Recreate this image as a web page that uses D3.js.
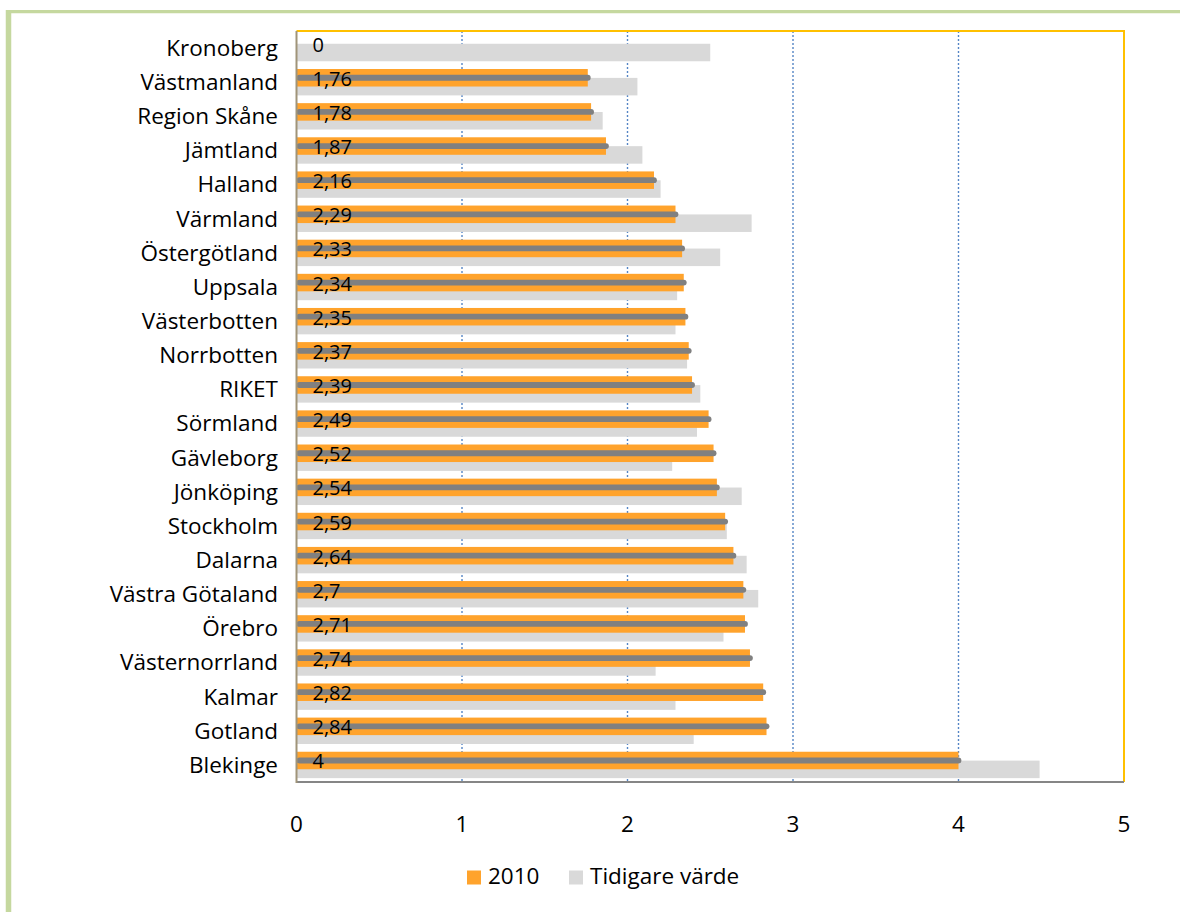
<!DOCTYPE html>
<html>
<head>
<meta charset="utf-8">
<script src="https://cdn.jsdelivr.net/npm/d3@7"></script>
<style>
  html, body { margin: 0; padding: 0; background: #ffffff; }
  svg { display: block; }
  text { font-family: "Open Sans", Lato, sans-serif; fill: #000; }
</style>
</head>
<body>
<svg id="chart" width="1180" height="912"></svg>
<script>
// Län, sorted as in the report (top to bottom)
const categories = ["Kronoberg", "Västmanland", "Region Skåne", "Jämtland", "Halland", "Värmland",
  "Östergötland", "Uppsala", "Västerbotten", "Norrbotten", "RIKET", "Sörmland", "Gävleborg",
  "Jönköping", "Stockholm", "Dalarna", "Västra Götaland", "Örebro", "Västernorrland", "Kalmar",
  "Gotland", "Blekinge"];

// Values for 2010
const values2010 = [0, 1.76, 1.78, 1.87, 2.16, 2.29, 2.33, 2.34, 2.35, 2.37, 2.39, 2.49, 2.52,
  2.54, 2.59, 2.64, 2.7, 2.71, 2.74, 2.82, 2.84, 4];

// Earlier value ("Tidigare värde")
const previousValues = [2.5, 2.06, 1.85, 2.09, 2.2, 2.75, 2.56, 2.3, 2.29, 2.36, 2.44, 2.42, 2.27,
  2.69, 2.6, 2.72, 2.79, 2.58, 2.17, 2.29, 2.4, 4.49];

const xTicks = [0, 1, 2, 3, 4, 5];
const seriesNames = ["2010", "Tidigare värde"];

const svg = d3.select("#chart");
const W = 1180, H = 912;

const plot = { left: 296.5, right: 1124, top: 31, bottom: 782 };

const x = d3.scaleLinear().domain([0, 5]).range([plot.left, plot.right]);
const y = d3.scaleBand().domain(categories).range([plot.top, plot.bottom]).paddingInner(0).paddingOuter(0);

const bw = y.bandwidth();
const barH = bw * 0.513;
const shift = bw * 0.13;
const center = d => y(d) + bw / 2;

const colors = { cur: "#ffa32c", prev: "#d9d9d9", line: "#808080" };

// outer frame
svg.append("line").attr("x1", 8.5).attr("x2", 8.5).attr("y1", 10).attr("y2", H)
  .attr("stroke", "#c5d89f").attr("stroke-width", 5.5);
svg.append("line").attr("x1", 6).attr("x2", W).attr("y1", 11.6).attr("y2", 11.6)
  .attr("stroke", "#c5d89f").attr("stroke-width", 3.2);

// vertical dotted gridlines
svg.append("g").selectAll("line").data(xTicks.filter(t => t > 0 && t < 5)).join("line")
  .attr("x1", d => x(d)).attr("x2", d => x(d))
  .attr("y1", plot.top).attr("y2", plot.bottom)
  .attr("stroke", "#5585c5").attr("stroke-width", 1.4).attr("stroke-dasharray", "2,2");

// earlier values (behind)
svg.append("g").selectAll("rect").data(categories).join("rect")
  .attr("x", x(0))
  .attr("y", d => center(d) + shift - barH / 2)
  .attr("width", (d, i) => x(previousValues[i]) - x(0))
  .attr("height", barH)
  .attr("fill", colors.prev);

// 2010 values
svg.append("g").selectAll("rect").data(categories).join("rect")
  .attr("x", x(0))
  .attr("y", d => center(d) - shift - barH / 2)
  .attr("width", (d, i) => x(values2010[i]) - x(0))
  .attr("height", barH)
  .attr("fill", colors.cur);

// thick gray marker line along each 2010 bar
const lw = 5.8;
svg.append("g").selectAll("line").data(categories.filter((d, i) => values2010[i] > 0)).join("line")
  .attr("x1", x(0) + lw / 2)
  .attr("x2", d => x(values2010[categories.indexOf(d)]))
  .attr("y1", d => center(d) - shift)
  .attr("y2", d => center(d) - shift)
  .attr("stroke", colors.line).attr("stroke-width", lw).attr("stroke-linecap", "round");

// plot borders
svg.append("line").attr("x1", plot.left).attr("x2", plot.right + 1).attr("y1", plot.top).attr("y2", plot.top)
  .attr("stroke", "#ffc000").attr("stroke-width", 2);
svg.append("line").attr("x1", plot.right).attr("x2", plot.right).attr("y1", plot.top).attr("y2", plot.bottom)
  .attr("stroke", "#ffc000").attr("stroke-width", 2);
svg.append("line").attr("x1", plot.left).attr("x2", plot.right).attr("y1", plot.bottom).attr("y2", plot.bottom)
  .attr("stroke", "#868686").attr("stroke-width", 2);
svg.append("line").attr("x1", plot.left).attr("x2", plot.left).attr("y1", plot.top).attr("y2", plot.bottom + 1)
  .attr("stroke", "#a09479").attr("stroke-width", 2);

// category labels
svg.append("g").selectAll("text").data(categories).join("text")
  .attr("x", plot.left - 18.5)
  .attr("y", d => center(d))
  .attr("dy", "0.35em")
  .attr("text-anchor", "end")
  .attr("font-size", 22.5)
  .text(d => d);

// value labels
const fmt = v => String(v).replace(".", ",");
svg.append("g").selectAll("text").data(categories).join("text")
  .attr("x", x(0) + 16)
  .attr("y", d => center(d) - shift + 1)
  .attr("dy", "0.35em")
  .attr("font-size", 20)
  .text((d, i) => fmt(values2010[i]));

// x axis tick labels
svg.append("g").selectAll("text").data(xTicks).join("text")
  .attr("x", d => x(d))
  .attr("y", 832)
  .attr("text-anchor", "middle")
  .attr("font-size", 22.5)
  .text(d => d);

// legend
const legend = svg.append("g");
const legendItems = [
  { name: seriesNames[0], color: colors.cur, x: 467 },
  { name: seriesNames[1], color: colors.prev, x: 569 }
];
legendItems.forEach(it => {
  legend.append("rect").attr("x", it.x).attr("y", 870.5).attr("width", 14).attr("height", 14).attr("fill", it.color);
  legend.append("text").attr("x", it.x + 21).attr("y", 884).attr("font-size", 22.5).text(it.name);
});
</script>
</body>
</html>
